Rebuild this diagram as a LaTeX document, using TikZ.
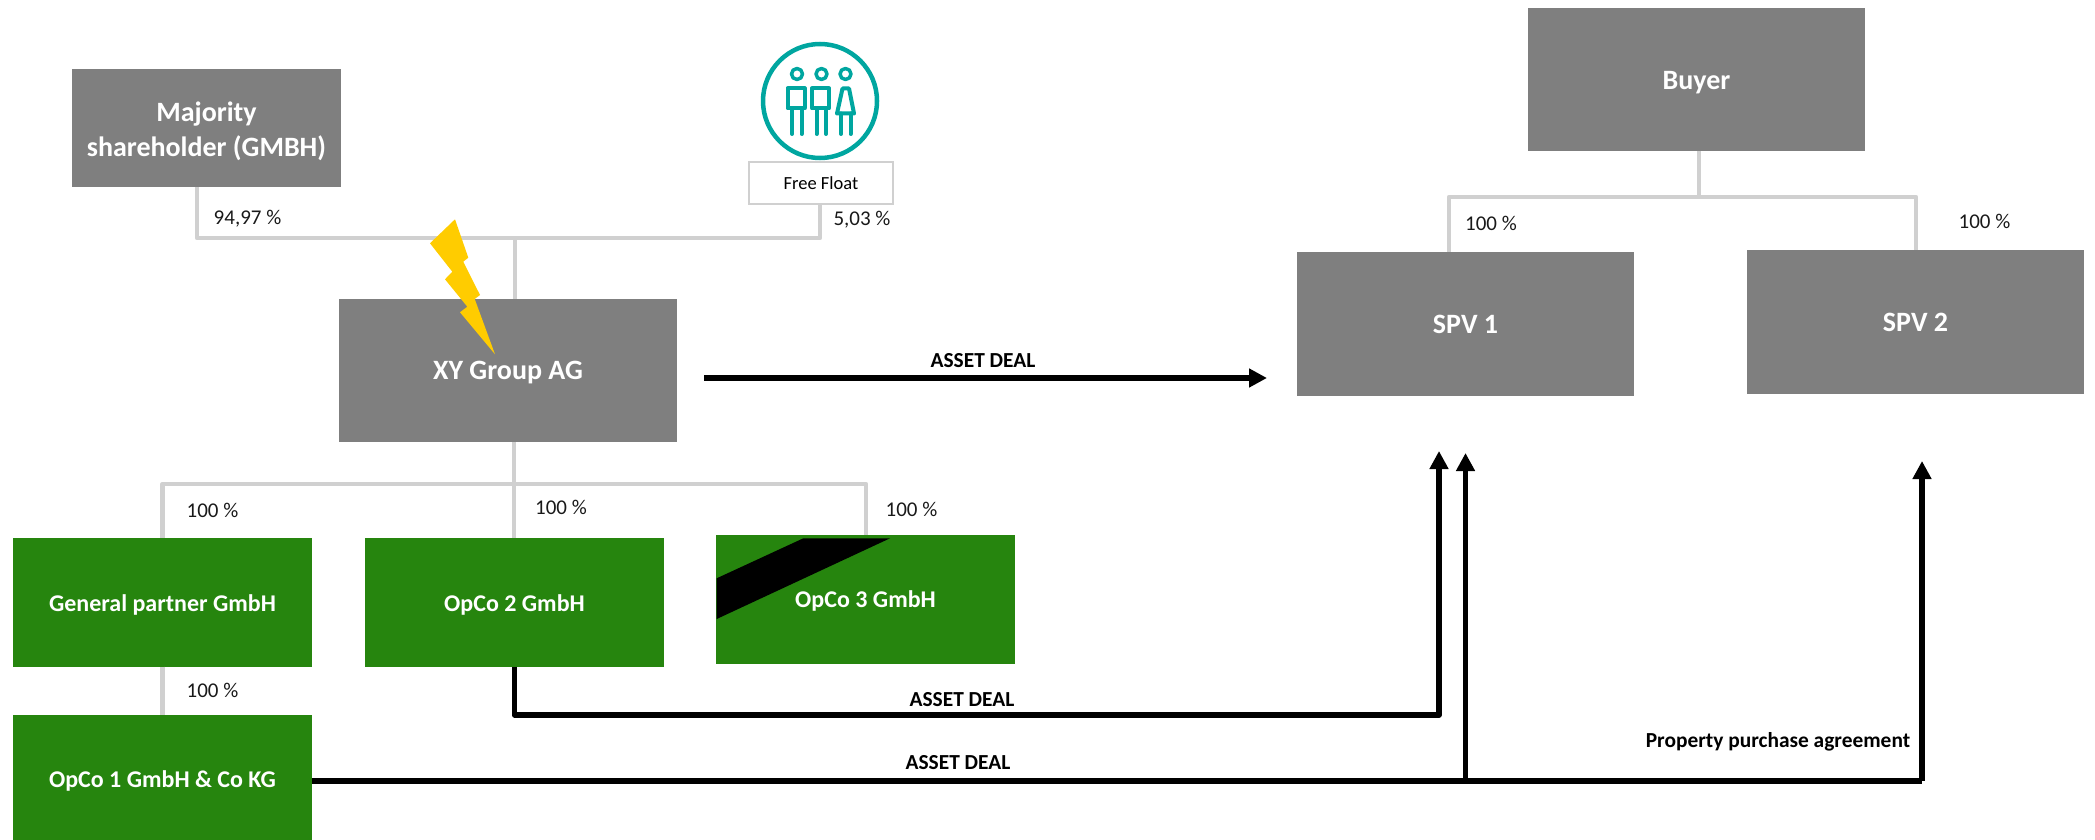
\documentclass[tikz,border=0pt]{standalone}
\usepackage{fontspec}
\setmainfont{Carlito}
\usetikzlibrary{arrows.meta, calc}
\definecolor{cgrey}{HTML}{7F7F7F}
\definecolor{cgreen}{HTML}{26850E}
\definecolor{cline}{HTML}{D0D0D0}
\definecolor{cteal}{HTML}{00A6A0}
\definecolor{cbolt}{HTML}{FFCC00}
\tikzset{
  every picture/.style={line width=1pt},
  solid box/.style={fill=#1, text=white, align=center, inner sep=0pt, outer sep=0pt},
  greybox/.style={solid box=cgrey, font=\fontsize{28}{35}\selectfont\bfseries},
  greenbox/.style={solid box=cgreen, font=\fontsize{24}{30}\selectfont\bfseries},
  feed/.style={draw=cline, line width=4.5pt, line join=round},
  deal/.style={draw=black, line width=5.5pt, line join=round, -{Triangle[length=18pt, width=18pt]}},
  share/.style={font=\fontsize{21}{25}\selectfont, text=black!90, inner sep=0pt},
  deallabel/.style={font=\fontsize{21.4}{26}\selectfont\bfseries, inner sep=0pt},
  icon/.style={draw=cteal, line width=4pt, line cap=round, line join=round},
}

\begin{document}
\begin{tikzpicture}[x=1pt, y=-1pt]
  \useasboundingbox (0,0) rectangle (2095,840);
  % owners and holding
  \node[greybox, minimum width=269pt, minimum height=118pt] (major) at (206.5,128) {};
  \node[greybox, text=white, fill=none] (majortext) at (206.5,131.5) {Majority\\shareholder (GMBH)};
  \node[draw=cline, line width=2.5pt, minimum width=144pt, minimum height=42pt, inner sep=0pt, font=\fontsize{18.5}{22}\selectfont] (float) at (821,183) {Free Float};
  \node[greybox, minimum width=338pt, minimum height=143pt, text height=25pt, text depth=7pt] (group) at (508,370.5) {XY Group AG};
  % buyer side
  \node[greybox, minimum width=337pt, minimum height=143pt, text height=27pt, text depth=7pt] (buyer) at (1696.5,79.5) {Buyer};
  \node[greybox, minimum width=337pt, minimum height=144pt, text height=25pt, text depth=7pt] (spva) at (1465.5,324) {SPV 1};
  \node[greybox, minimum width=337pt, minimum height=144pt, text height=25pt, text depth=7pt] (spvb) at (1915.5,322) {SPV 2};
  % operating companies
  \node[greenbox, minimum width=299pt, minimum height=129pt, text height=25pt, text depth=6pt] (partner) at (162.5,602) {General partner GmbH};
  \node[greenbox, minimum width=299pt, minimum height=129pt, text height=25pt, text depth=6pt] (opcob) at (514.5,602) {OpCo 2 GmbH};
  \node[greenbox, minimum width=299pt, minimum height=129pt] (opcoc) at (865.5,599.5) {};
  \node[greenbox, minimum width=299pt, minimum height=125pt, text height=25pt, text depth=6pt] (opcoa) at (162.5,777.5) {OpCo 1 GmbH \& Co KG};
  \fill[black] (716.7,578.3) -- (803.3,538.3) -- (890,538.3) -- (716.7,619) -- cycle;
  \node[font=\fontsize{24}{30}\selectfont\bfseries, text=white, inner sep=0pt] (opcoctext) at (865.5,601) {OpCo 3 GmbH};
  % named corners of the grey lines
  \coordinate (majfoot) at (197,187);
  \coordinate (floatfoot) at (820,204);
  \coordinate (grouptop) at (515,299);
  \coordinate (topjoin) at (515,238);
  \coordinate (lowjoin) at (514,484);
  \coordinate (buyerjoin) at (1699,197);
  \coordinate (spvatop) at (1449,252);
  \coordinate (spvbtop) at (1916,250);
  \coordinate (opcoctop) at (866,535);
  \draw[feed] (majfoot) |- (topjoin) -| (floatfoot);
  \draw[feed] (topjoin) -- (grouptop);
  \draw[feed] (lowjoin |- group.south) -- (lowjoin);
  \draw[feed] (partner.north) |- (lowjoin) -| (opcoctop);
  \draw[feed] (lowjoin) -- (lowjoin |- opcob.north);
  \draw[feed] (partner.south) -- (opcoa.north);
  \draw[feed] (buyerjoin |- buyer.south) -- (buyerjoin);
  \draw[feed] (spvatop) |- (buyerjoin) -| (spvbtop);
  % the bolt
  \fill[cbolt] (455,219.3) -- (468.3,257.7) -- (463.3,261.7) -- (480,295) -- (474.7,299) -- (495,354.3) -- (460,312.3) -- (467.3,306.7) -- (445,279.3) -- (452.3,271.7) -- (430,243.3) -- cycle;
  % free float icon
  \node[draw=cteal, line width=4.5pt, circle, minimum size=114pt, inner sep=0pt] (crowd) at (820,101) {};
  \foreach \px in {797,821.5,845.5} { \draw[icon, line width=3.5pt] (\px,74) circle (5.5); }
  \foreach \px in {797,821.5} {
    \draw[icon] (\px-9.5,88.5) rectangle (\px+6.5+1,108.5);
    \draw[icon] (\px-5,108.5) -- (\px-5,134);
    \draw[icon] (\px+4.5,108.5) -- (\px+4.5,134);
  }
  \draw[icon] (842.5,88.5) -- (849,88.5) -- (854,113.5) -- (837,113.5) -- cycle;
  \draw[icon] (841,113.5) -- (841,134);
  \draw[icon] (850.5,113.5) -- (850.5,134);
  % deals
  \coordinate (dealstart) at (704,378);
  \coordinate (dealend) at (1267,378);
  \coordinate (lowa) at (1439,715);
  \coordinate (tipa) at (1439,451);
  \coordinate (lowb) at (1465.5,781);
  \coordinate (tipb) at (1465.5,453);
  \coordinate (lowc) at (1922,781);
  \coordinate (tipc) at (1922,461);
  \draw[deal] (dealstart) -- (dealend);
  \draw[deal] (opcob.south) -- (opcob.south |- lowa) -- (lowa) -- (tipa);
  \draw[deal, -] (opcoa.east |- lowb) -- (lowc);
  \draw[deal] (lowb) -- (tipb);
  \draw[deal] (lowc) -- (tipc);
  % percentages
  \node[share] (pmajor) at (247.5,219) {94,97 \%};
  \node[share] (pfloat) at (862,219.5) {5,03 \%};
  \node[share] (pspva) at (1491,223.5) {100 \%};
  \node[share] (pspvb) at (1984.5,221.5) {100 \%};
  \node[share] (ppartner) at (212.5,510.5) {100 \%};
  \node[share] (popcob) at (561,507.5) {100 \%};
  \node[share] (popcoc) at (911.5,509.5) {100 \%};
  \node[share] (popcoa) at (212.5,690.5) {100 \%};
  % deal labels
  \node[deallabel] (lgroup) at (983,360.3) {ASSET DEAL};
  \node[deallabel] (lopcob) at (962,699.3) {ASSET DEAL};
  \node[deallabel] (lopcoa) at (958,762.3) {ASSET DEAL};
  \node[deallabel] (lprop) at (1778,742) {Property purchase agreement};
\end{tikzpicture}
\end{document}
